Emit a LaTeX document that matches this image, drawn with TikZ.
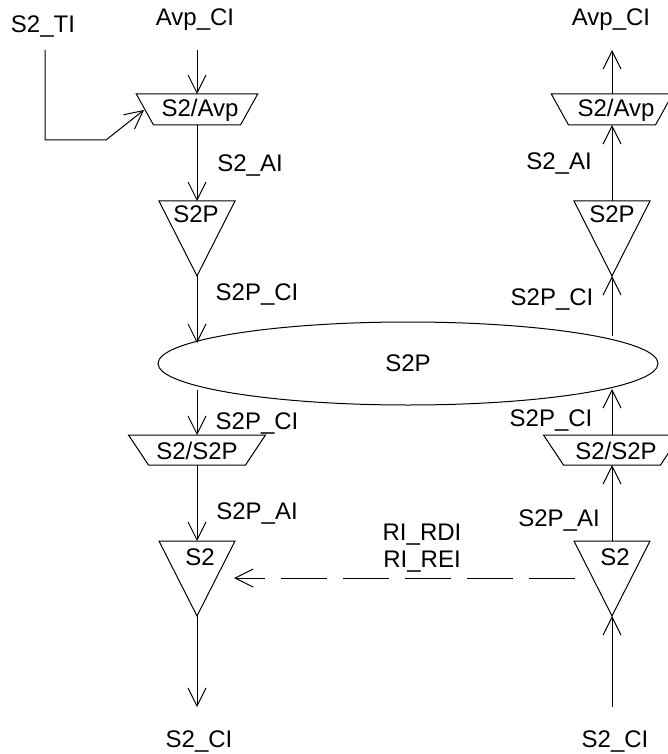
\documentclass[tikz,border=0pt]{standalone}
\usepackage{fontspec}
\setmainfont{Liberation Sans}
\usetikzlibrary{arrows.meta,shapes.geometric}
\begin{document}
\begin{tikzpicture}[x=0.5pt,y=-0.5pt,
            every node/.style={font=\fontsize{12}{14}\selectfont,inner sep=0pt,outer sep=0pt},
            textbox/.style={anchor=base},
            sinknode/.style={draw,line width=0.5pt,isosceles triangle,isosceles triangle stretches,shape border rotate=270,minimum width=38pt,minimum height=37.5pt,inner sep=2pt,anchor=apex},
            adaptavp/.style={draw,line width=0.5pt,trapezium,shape border rotate=180,text width=43.5pt,text height=15.5pt,text depth=0pt,trapezium left angle=61,trapezium right angle=61},
            adaptsp/.style={draw,line width=0.5pt,trapezium,shape border rotate=180,text width=48.5pt,text height=15pt,text depth=0pt,trapezium left angle=56.3,trapezium right angle=56.3},
            flow/.style={line width=0.5pt,-{Straight Barb[length=9pt,width=9pt,line width=0.5pt]}},
            rdi/.style={flow,dash pattern=on 23pt off 8pt}
        ]
            \useasboundingbox (0,0) rectangle (668,754);
            \clip (0,0) rectangle (668,754);
            % left column
            \coordinate (TItop) at (45,50);
            \coordinate (TIa) at (45,140);
            \coordinate (TIb) at (106,140);
            \coordinate (TIc) at (144,110);
            \coordinate (AvpIn) at (197,50);
            \coordinate (S2Out) at (197,707);
            \node[adaptavp] (AvpA) at (197,109.5) {};
            \node[sinknode] (S2PA) at (197,276) {};
            \node[ellipse,draw,line width=0.5pt,minimum width=250pt,minimum height=41.5pt] (S2Pbig) at (408,363.5) {};
            \node[adaptsp] (S2PadA) at (197,450) {};
            \node[sinknode] (S2A) at (197,616) {};
            % right column
            \coordinate (AvpOut) at (612,50);
            \coordinate (S2In) at (612,707);
            \node[adaptavp] (AvpB) at (612,109.5) {};
            \node[sinknode] (S2PB) at (612,276) {};
            \node[adaptsp] (S2PadB) at (612,450) {};
            \node[sinknode] (S2B) at (612,616) {};
            \coordinate (BigTopL) at (197,343);
            \coordinate (BigBotL) at (197,390);
            \coordinate (BigTopR) at (612,336);
            \coordinate (BigBotR) at (612,389);
            \coordinate (RDIend) at (234,578);
            \coordinate (RDIstart) at (575,578);
            % texts
            \node[textbox] (S2TI) at (43,33) {S2\_TI};
            \node[textbox] (AvpCIa) at (195,26) {Avp\_CI};
            \node[textbox] (AvpCIb) at (611,26) {Avp\_CI};
            \node[textbox] (AvpTa) at (200,117) {S2/Avp};
            \node[textbox] (AvpTb) at (616,117) {S2/Avp};
            \node[textbox] (AIa) at (250,172) {S2\_AI};
            \node[textbox] (AIb) at (559,170) {S2\_AI};
            \node[textbox] (S2PTa) at (196,222) {S2P};
            \node[textbox] (S2PTb) at (612,222) {S2P};
            \node[textbox] (CIa) at (257,300) {S2P\_CI};
            \node[textbox] (CIb) at (552,305) {S2P\_CI};
            \node[textbox] (S2Pmid) at (408,371) {S2P};
            \node[textbox] (CIc) at (257,429) {S2P\_CI};
            \node[textbox] (CId) at (551,426) {S2P\_CI};
            \node[textbox] (AdTa) at (197,459) {S2/S2P};
            \node[textbox] (AdTb) at (616,459) {S2/S2P};
            \node[textbox] (PAIa) at (257,519) {S2P\_AI};
            \node[textbox] (PAIb) at (559,526) {S2P\_AI};
            \node[textbox] (S2Ta) at (200,565) {S2};
            \node[textbox] (S2Tb) at (615,565) {S2};
            \node[textbox] (RDIlab) at (422,540) {RI\_RDI};
            \node[textbox] (REIlab) at (422,567) {RI\_REI};
            \node[textbox] (S2CIa) at (199,747) {S2\_CI};
            \node[textbox] (S2CIb) at (615,747) {S2\_CI};
            \path[flow]
                (AvpIn) edge ([yshift=7.75pt]AvpA.center)
                ([yshift=-7.75pt]AvpA.center) edge (S2PA.lower side)
                (S2PA.apex) edge (BigTopL)
                (BigBotL) edge ([yshift=7.5pt]S2PadA.center)
                ([yshift=-7.5pt]S2PadA.center) edge (S2A.lower side)
                (S2A.apex) edge (S2Out)
                (S2In) edge (S2B.apex)
                (S2B.lower side) edge ([yshift=-7.5pt]S2PadB.center)
                ([yshift=7.5pt]S2PadB.center) edge (BigBotR)
                (BigTopR) edge (S2PB.apex)
                (S2PB.lower side) edge ([yshift=-7.75pt]AvpB.center)
                ([yshift=7.75pt]AvpB.center) edge (AvpOut);
            \draw[flow] (TItop) -- (TIa) -- (TIb) -- (TIc);
            \draw[rdi] (RDIstart) -- (RDIend);
        \end{tikzpicture}
\end{document}
